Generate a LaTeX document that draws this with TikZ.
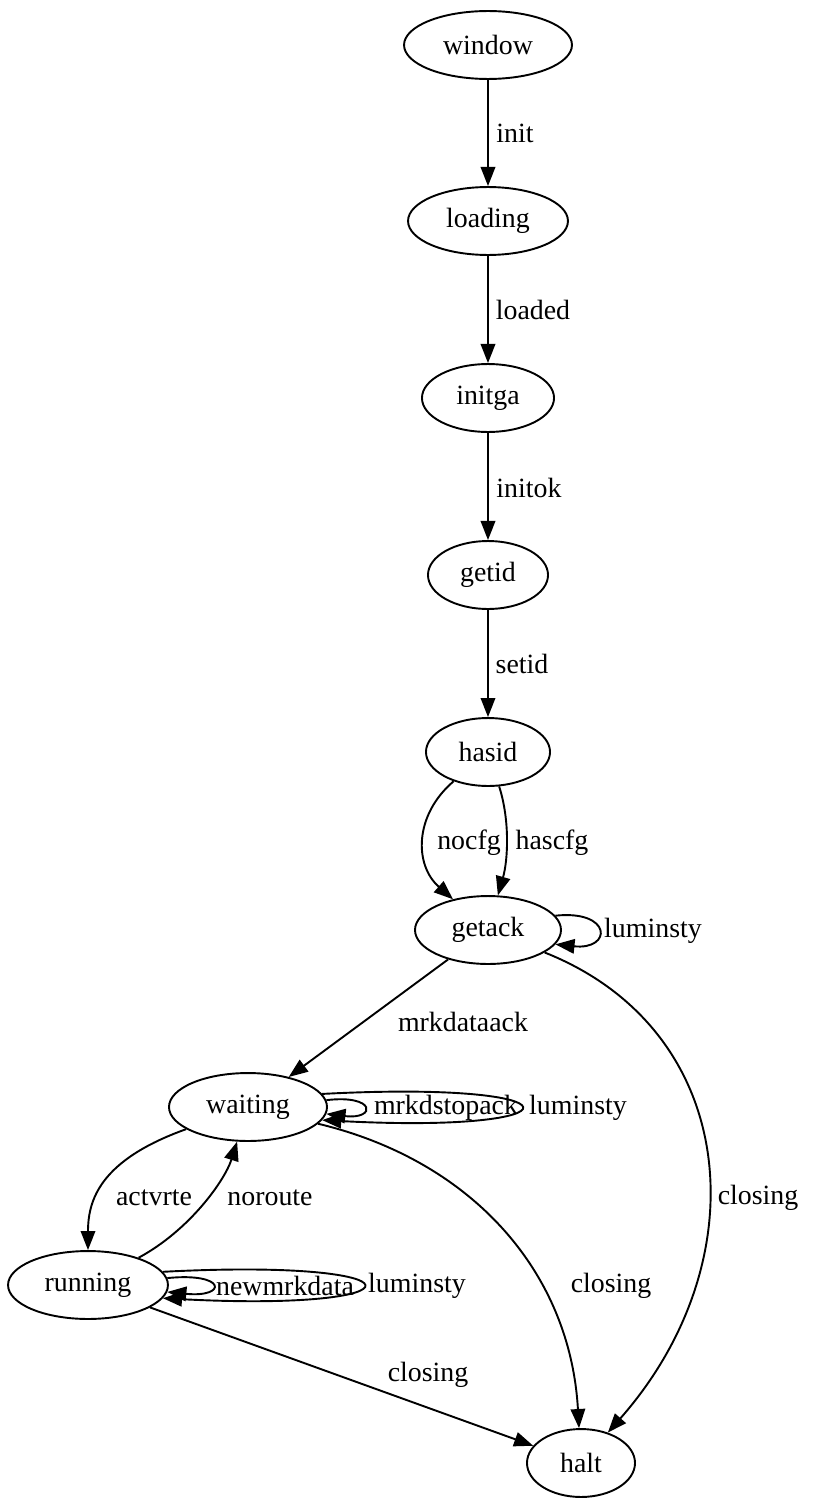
\documentclass[tikz,border=0pt]{standalone}
\usepackage{fontspec}
\setmainfont{Liberation Serif}
\usetikzlibrary{arrows.meta,shapes.geometric}

\begin{document}
\begin{tikzpicture}[x=0.524pt, y=-0.524pt, font=\fontsize{14.6}{17}\selectfont,
  state/.style={draw, ellipse, line width=1pt, minimum height=35.6pt, inner sep=0pt},
  trans/.style={-{Triangle[length=10pt, width=7.6pt]}, line width=1pt},
  lbl/.style={inner sep=0pt}]
% page is 814 x 1507 px, y runs downward
\useasboundingbox (0,0) rectangle (814,1507);
% ---------- states ----------
\node[state, minimum width=88pt]   (window)  at (488,45)   {window};
\node[state, minimum width=83.8pt] (loading) at (488,221)  {loading};
\node[state, minimum width=69.2pt] (initga)  at (488,398)  {initga};
\node[state, minimum width=62.9pt] (getid)   at (488,575)  {getid};
\node[state, minimum width=65pt]   (hasid)   at (488,752)  {hasid};
\node[state, minimum width=76.5pt] (getack)  at (488,930)  {getack};
\node[state, minimum width=82.8pt] (waiting) at (248,1107) {waiting};
\node[state, minimum width=83.8pt] (running) at (88,1285)  {running};
\node[state, minimum width=56.6pt] (halt)    at (581,1463) {halt};
% ---------- start-up chain ----------
\draw[trans] (window) -- (loading);
\node[lbl] (initlbl) at (515,133) {init};
\draw[trans] (loading) -- (initga);
\node[lbl] (loadedlbl) at (533,310) {loaded};
\draw[trans] (initga) -- (getid);
\node[lbl] (initoklbl) at (529,488) {initok};
\draw[trans] (getid) -- (hasid);
\node[lbl] (setidlbl) at (522,664) {setid};
% ---------- hasid -> getack (two ways) ----------
\draw[trans] (hasid) .. controls (414,815) and (414,865) .. (getack);
\node[lbl] (nocfglbl) at (469,843) {nocfg};
\draw[trans] (hasid) .. controls (510,820) and (508,860) .. (getack);
\node[lbl] (hascfglbl) at (552,843) {hascfg};
% ---------- getack ----------
\draw[trans] (getack.12) .. controls +(57,-6) and +(57,6) .. (getack.-12);
\node[lbl] (getacklooplbl) at (653,931) {luminsty};
\draw[trans] (getack) -- (waiting);
\node[lbl] (mrkdataacklbl) at (463,1022) {mrkdataack};
\draw[trans] (getack) .. controls (740,1030) and (760,1260) .. (halt);
\node[lbl] (closinglbla) at (758,1198) {closing};
% ---------- waiting ----------
\draw[trans] (waiting.5) .. controls +(50,-6) and +(50,6) .. (waiting.-5);
\node[lbl] (mrkdstopacklbl) at (446,1108) {mrkdstopack};
\draw[trans] (waiting.10) .. controls +(265,-14) and +(265,14) .. (waiting.-10);
\node[lbl] (waitlooplbl) at (578,1108) {luminsty};
\draw[trans] (waiting) .. controls (100,1160) and (88,1200) .. (running);
\node[lbl] (actvrtelbl) at (154,1198) {actvrte};
\draw[trans] (waiting) .. controls (470,1160) and (570,1270) .. (halt);
\node[lbl] (closinglblb) at (611,1286) {closing};
% ---------- running ----------
\draw[trans] (running) .. controls (190,1230) and (225,1180) .. (waiting);
\node[lbl] (noroutelbl) at (270,1198) {noroute};
\draw[trans] (running.5) .. controls +(60,-6) and +(60,6) .. (running.-5);
\node[lbl] (newmrkdatalbl) at (285,1286) {newmrkdata};
\draw[trans] (running.10) .. controls +(267,-14) and +(267,14) .. (running.-10);
\node[lbl] (runlooplbl) at (417,1286) {luminsty};
\draw[trans] (running) -- (halt);
\node[lbl] (closinglblc) at (428,1375) {closing};
\end{tikzpicture}
\end{document}
